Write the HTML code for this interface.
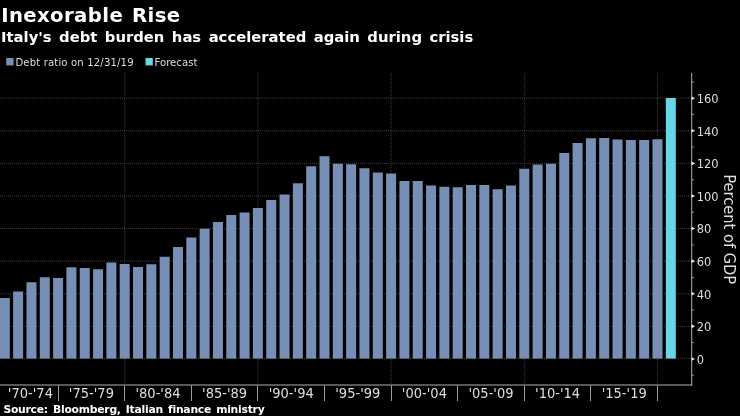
<!DOCTYPE html>
<html><head><meta charset="utf-8"><title>Inexorable Rise</title>
<style>
html,body{margin:0;padding:0;background:#000;}
body{width:740px;height:416px;overflow:hidden;}
svg{display:block;}
.t{font-family:"DejaVu Sans","Liberation Sans",sans-serif;font-weight:bold;fill:#fff;}
.a{font-family:"DejaVu Sans Condensed","DejaVu Sans","Liberation Sans",sans-serif;fill:#dedede;}
</style></head><body>
<svg width="740" height="416" viewBox="0 0 740 416">
<rect x="0" y="0" width="740" height="416" fill="#000"/>

<g stroke="#3e3e3e" stroke-width="1" stroke-dasharray="1 1" fill="none">
<line x1="0" y1="358.20" x2="691" y2="358.20"/>
<line x1="0" y1="326.36" x2="691" y2="326.36"/>
<line x1="0" y1="293.76" x2="691" y2="293.76"/>
<line x1="0" y1="261.17" x2="691" y2="261.17"/>
<line x1="0" y1="228.57" x2="691" y2="228.57"/>
<line x1="0" y1="195.98" x2="691" y2="195.98"/>
<line x1="0" y1="163.39" x2="691" y2="163.39"/>
<line x1="0" y1="130.79" x2="691" y2="130.79"/>
<line x1="0" y1="98.20" x2="691" y2="98.20"/>
<line x1="124.70" y1="73" x2="124.70" y2="385"/>
<line x1="257.90" y1="73" x2="257.90" y2="385"/>
<line x1="391.10" y1="73" x2="391.10" y2="385"/>
<line x1="524.30" y1="73" x2="524.30" y2="385"/>
<line x1="657.50" y1="73" x2="657.50" y2="385"/>
</g>
<g fill="#778fb5">
<rect x="-0.18" y="298.00" width="10.00" height="60.60"/>
<rect x="13.14" y="291.50" width="10.00" height="67.10"/>
<rect x="26.46" y="282.25" width="10.00" height="76.35"/>
<rect x="39.78" y="277.25" width="10.00" height="81.35"/>
<rect x="53.10" y="278.00" width="10.00" height="80.60"/>
<rect x="66.42" y="267.25" width="10.00" height="91.35"/>
<rect x="79.74" y="268.00" width="10.00" height="90.60"/>
<rect x="93.06" y="269.25" width="10.00" height="89.35"/>
<rect x="106.38" y="262.50" width="10.00" height="96.10"/>
<rect x="119.70" y="264.00" width="10.00" height="94.60"/>
<rect x="133.02" y="267.00" width="10.00" height="91.60"/>
<rect x="146.34" y="264.25" width="10.00" height="94.35"/>
<rect x="159.66" y="256.75" width="10.00" height="101.85"/>
<rect x="172.98" y="247.00" width="10.00" height="111.60"/>
<rect x="186.30" y="237.50" width="10.00" height="121.10"/>
<rect x="199.62" y="228.75" width="10.00" height="129.85"/>
<rect x="212.94" y="222.00" width="10.00" height="136.60"/>
<rect x="226.26" y="215.00" width="10.00" height="143.60"/>
<rect x="239.58" y="212.50" width="10.00" height="146.10"/>
<rect x="252.90" y="208.00" width="10.00" height="150.60"/>
<rect x="266.22" y="200.00" width="10.00" height="158.60"/>
<rect x="279.54" y="194.50" width="10.00" height="164.10"/>
<rect x="292.86" y="183.25" width="10.00" height="175.35"/>
<rect x="306.18" y="166.25" width="10.00" height="192.35"/>
<rect x="319.50" y="156.25" width="10.00" height="202.35"/>
<rect x="332.82" y="163.75" width="10.00" height="194.85"/>
<rect x="346.14" y="164.25" width="10.00" height="194.35"/>
<rect x="359.46" y="168.25" width="10.00" height="190.35"/>
<rect x="372.78" y="172.50" width="10.00" height="186.10"/>
<rect x="386.10" y="173.50" width="10.00" height="185.10"/>
<rect x="399.42" y="181.00" width="10.00" height="177.60"/>
<rect x="412.74" y="181.00" width="10.00" height="177.60"/>
<rect x="426.06" y="185.50" width="10.00" height="173.10"/>
<rect x="439.38" y="186.75" width="10.00" height="171.85"/>
<rect x="452.70" y="187.25" width="10.00" height="171.35"/>
<rect x="466.02" y="185.00" width="10.00" height="173.60"/>
<rect x="479.34" y="185.00" width="10.00" height="173.60"/>
<rect x="492.66" y="189.25" width="10.00" height="169.35"/>
<rect x="505.98" y="185.50" width="10.00" height="173.10"/>
<rect x="519.30" y="168.75" width="10.00" height="189.85"/>
<rect x="532.62" y="164.50" width="10.00" height="194.10"/>
<rect x="545.94" y="163.75" width="10.00" height="194.85"/>
<rect x="559.26" y="153.00" width="10.00" height="205.60"/>
<rect x="572.58" y="143.00" width="10.00" height="215.60"/>
<rect x="585.90" y="138.25" width="10.00" height="220.35"/>
<rect x="599.22" y="138.00" width="10.00" height="220.60"/>
<rect x="612.54" y="139.50" width="10.00" height="219.10"/>
<rect x="625.86" y="140.00" width="10.00" height="218.60"/>
<rect x="639.18" y="140.00" width="10.00" height="218.60"/>
<rect x="652.50" y="139.25" width="10.00" height="219.35"/>
</g>
<rect x="665.82" y="98.00" width="10.00" height="260.60" fill="#68d6e8"/>
<g stroke="#b0b0b0" stroke-width="1" fill="none">
<line x1="691.7" y1="73" x2="691.7" y2="385.5"/>
<line x1="0" y1="385" x2="692.2" y2="385"/>
<line x1="58.50" y1="385" x2="58.50" y2="401" stroke="#9a9a9a"/>
<line x1="124.50" y1="385" x2="124.50" y2="401" stroke="#9a9a9a"/>
<line x1="191.50" y1="385" x2="191.50" y2="401" stroke="#9a9a9a"/>
<line x1="257.50" y1="385" x2="257.50" y2="401" stroke="#9a9a9a"/>
<line x1="324.50" y1="385" x2="324.50" y2="401" stroke="#9a9a9a"/>
<line x1="391.50" y1="385" x2="391.50" y2="401" stroke="#9a9a9a"/>
<line x1="457.50" y1="385" x2="457.50" y2="401" stroke="#9a9a9a"/>
<line x1="524.50" y1="385" x2="524.50" y2="401" stroke="#9a9a9a"/>
<line x1="590.50" y1="385" x2="590.50" y2="401" stroke="#9a9a9a"/>
<line x1="657.50" y1="385" x2="657.50" y2="401" stroke="#9a9a9a"/>
</g>
<g fill="#ececec">
<path d="M691.6 357.15 L695.1 358.95 L691.6 360.75 Z"/>
<path d="M691.6 324.56 L695.1 326.36 L691.6 328.16 Z"/>
<path d="M691.6 291.96 L695.1 293.76 L691.6 295.56 Z"/>
<path d="M691.6 259.37 L695.1 261.17 L691.6 262.97 Z"/>
<path d="M691.6 226.77 L695.1 228.57 L691.6 230.37 Z"/>
<path d="M691.6 194.18 L695.1 195.98 L691.6 197.78 Z"/>
<path d="M691.6 161.59 L695.1 163.39 L691.6 165.19 Z"/>
<path d="M691.6 128.99 L695.1 130.79 L691.6 132.59 Z"/>
<path d="M691.6 96.40 L695.1 98.20 L691.6 100.00 Z"/>
</g>
<g stroke="#9a9a9a" stroke-width="1" fill="none">
<line x1="692" y1="375.25" x2="693.8" y2="375.25"/>
<line x1="692" y1="342.65" x2="693.8" y2="342.65"/>
<line x1="692" y1="310.06" x2="693.8" y2="310.06"/>
<line x1="692" y1="277.46" x2="693.8" y2="277.46"/>
<line x1="692" y1="244.87" x2="693.8" y2="244.87"/>
<line x1="692" y1="212.28" x2="693.8" y2="212.28"/>
<line x1="692" y1="179.68" x2="693.8" y2="179.68"/>
<line x1="692" y1="147.09" x2="693.8" y2="147.09"/>
<line x1="692" y1="114.50" x2="693.8" y2="114.50"/>
<line x1="692" y1="81.90" x2="693.8" y2="81.90"/>
</g>
<g class="a" font-size="12.7">
<text x="696.8" y="363.70">0</text>
<text x="696.8" y="331.11">20</text>
<text x="696.8" y="298.51">40</text>
<text x="696.8" y="265.92">60</text>
<text x="696.8" y="233.32">80</text>
<text x="696.8" y="200.73">100</text>
<text x="696.8" y="168.14">120</text>
<text x="696.8" y="135.54">140</text>
<text x="696.8" y="102.95">160</text>
</g>
<g class="a" font-size="14.5" text-anchor="middle">
<text x="30.40" y="398.2">'70-'74</text>
<text x="91.40" y="398.2">'75-'79</text>
<text x="158.00" y="398.2">'80-'84</text>
<text x="224.60" y="398.2">'85-'89</text>
<text x="291.20" y="398.2">'90-'94</text>
<text x="357.80" y="398.2">'95-'99</text>
<text x="424.40" y="398.2">'00-'04</text>
<text x="491.00" y="398.2">'05-'09</text>
<text x="557.60" y="398.2">'10-'14</text>
<text x="624.20" y="398.2">'15-'19</text>
</g>
<text class="a" font-size="16.3" transform="translate(724.4 174.3) rotate(90)">Percent of GDP</text>
<text class="t" font-size="19.2" letter-spacing="0.38" word-spacing="1.6" transform="translate(1.2 22) scale(1.025 1)">Inexorable Rise</text>
<text class="t" font-size="14.8" word-spacing="2.3" x="1" y="42.2">Italy's debt burden has accelerated again during crisis</text>
<rect x="6.2" y="58" width="7.4" height="7.4" fill="#778fb5"/>
<text class="a" font-size="11.2" letter-spacing="0.16" x="15.4" y="65.8">Debt ratio on 12/31/19</text>
<rect x="145.5" y="58" width="7.3" height="7.4" fill="#68d6e8"/>
<text class="a" font-size="11.2" letter-spacing="0.05" x="154.5" y="65.8">Forecast</text>
<text class="t" font-size="10.8" letter-spacing="-0.25" word-spacing="1.6" x="3.4" y="413">Source: Bloomberg, Italian finance ministry</text>
</svg></body></html>
